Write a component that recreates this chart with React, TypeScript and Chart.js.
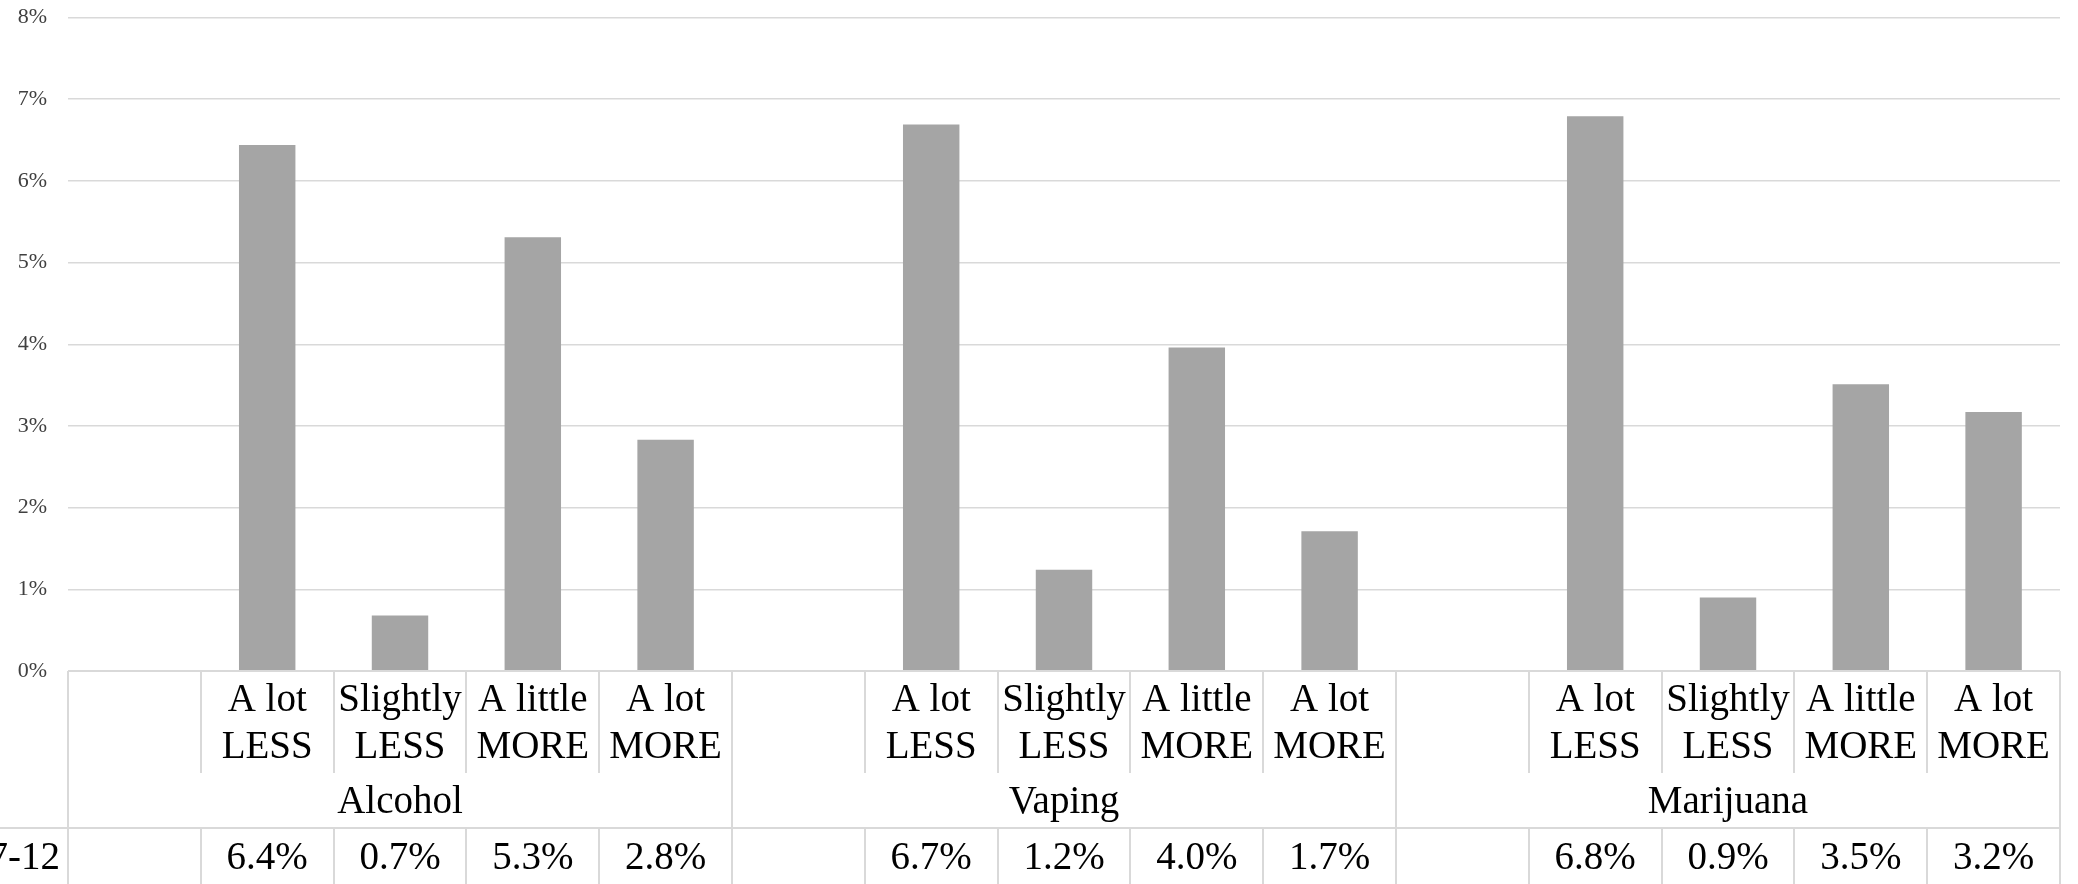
import React, { useEffect, useRef } from "react";
import { Chart, registerables } from "chart.js";

Chart.register(...registerables);

const groups = ["Alcohol", "Vaping", "Marijuana"];
const responses = [["A lot", "LESS"], ["Slightly", "LESS"], ["A little", "MORE"], ["A lot", "MORE"]];
const alcohol = [6.44, 0.68, 5.31, 2.83];
const vaping = [6.69, 1.24, 3.96, 1.71];
const marijuana = [6.79, 0.9, 3.51, 3.17];
const seriesName = "7-12";
const yTicks = [0, 1, 2, 3, 4, 5, 6, 7, 8];

const groupValues = [alcohol, vaping, marijuana];
const slotLabels: string[][] = [];
const slotValues: (number | null)[] = [];
groupValues.forEach((vals) => {
  slotLabels.push([""]);
  slotValues.push(null);
  vals.forEach((v, i) => {
    slotLabels.push(responses[i]);
    slotValues.push(v);
  });
});

const FONT = '"Liberation Serif", "Times New Roman", serif';
const LINE = "#d9d9d9";

const tablePlugin = {
  id: "dataTable",
  afterDraw(chart: any) {
    const { ctx, chartArea } = chart;
    const left = chartArea.left;
    const right = chartArea.right;
    const n = slotLabels.length;
    const w = (right - left) / n;
    const top = chartArea.bottom;
    const r1 = top + 102;
    const r2 = r1 + 55;
    const r3 = chart.height + 2;
    ctx.save();
    ctx.strokeStyle = LINE;
    ctx.lineWidth = 2;
    const line = (x1: number, y1: number, x2: number, y2: number) => {
      ctx.beginPath();
      ctx.moveTo(x1, y1);
      ctx.lineTo(x2, y2);
      ctx.stroke();
    };
    line(left, top, right, top);
    line(0, r2, right, r2);
    for (let i = 0; i <= n; i++) {
      const x = Math.round(left + i * w);
      if (i % 5 === 0) {
        line(x, top, x, r3);
      } else {
        line(x, top, x, r1);
        line(x, r2, x, r3);
      }
    }
    ctx.fillStyle = "#000";
    ctx.font = `39px ${FONT}`;
    ctx.textAlign = "center";
    ctx.textBaseline = "alphabetic";
    for (let i = 0; i < n; i++) {
      const cx = left + (i + 0.5) * w;
      const lbl = slotLabels[i];
      if (lbl[0]) ctx.fillText(lbl[0], cx, top + 40);
      if (lbl[1]) ctx.fillText(lbl[1], cx, top + 87);
      const v = slotValues[i];
      if (v !== null && v !== undefined) ctx.fillText(v.toFixed(1) + "%", cx, r2 + 41);
    }
    groups.forEach((g, gi) => {
      const cx = left + (gi * 5 + 2.5) * w;
      ctx.fillText(g, cx, r1 + 40);
    });
    ctx.textAlign = "right";
    ctx.fillText(seriesName, 60, r2 + 41);
    ctx.restore();
  },
};

export default function App() {
  const ref = useRef<HTMLCanvasElement>(null);
  useEffect(() => {
    if (!ref.current) return;
    const chart = new Chart(ref.current, {
      type: "bar",
      data: {
        labels: slotLabels.map((l) => l.join(" ")),
        datasets: [
          {
            label: seriesName,
            data: slotValues,
            backgroundColor: "#a5a5a5",
            borderWidth: 0,
            barPercentage: 0.425,
            categoryPercentage: 1,
          },
        ],
      },
      options: {
        animation: false,
        responsive: false,
        maintainAspectRatio: false,
        devicePixelRatio: 1,
        layout: { padding: { top: 17.5, right: 18, bottom: 213, left: 0 } },
        plugins: { legend: { display: false }, tooltip: { enabled: false } },
        scales: {
          x: { display: false },
          y: {
            min: 0,
            max: 8,
            afterFit: (s: any) => {
              s.width = 68;
              s.paddingTop = 0;
              s.paddingBottom = 0;
            },
            afterBuildTicks: (s: any) => {
              s.ticks = yTicks.map((v) => ({ value: v }));
            },
            border: { display: false },
            grid: { color: LINE, lineWidth: 1.5, drawTicks: false },
            ticks: {
              padding: 21,
              color: "#404040",
              font: { family: FONT, size: 22 },
              callback: (v: any) => v + "%",
            },
          },
        },
      },
      plugins: [tablePlugin],
    });
    return () => chart.destroy();
  }, []);
  return (
    <div style={{ position: "fixed", left: 0, top: 0, width: 2078, height: 884, background: "#fff" }}>
      <canvas ref={ref} width={2078} height={884} />
    </div>
  );
}
